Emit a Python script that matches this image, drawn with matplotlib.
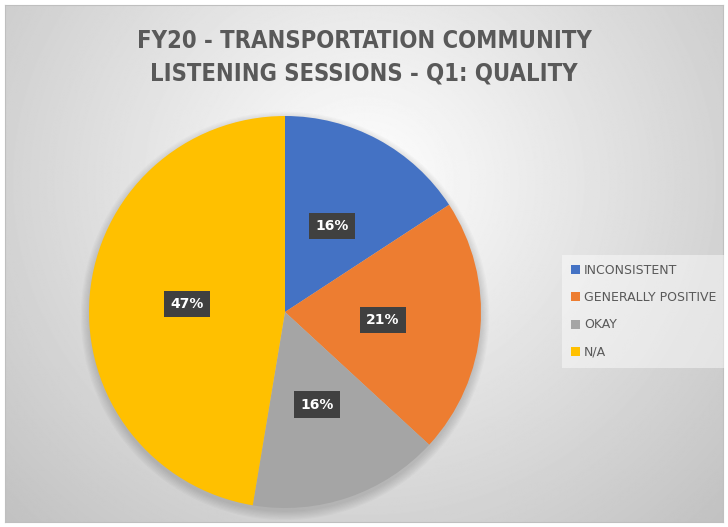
import numpy as np
import matplotlib.pyplot as plt
from matplotlib.patches import Patch, Circle

categories = ['INCONSISTENT', 'GENERALLY POSITIVE', 'OKAY', 'N/A']
responses = [3, 4, 3, 9]
colors = ['#4472C4', '#ED7D31', '#A5A5A5', '#FFC000']
title = 'FY20 - TRANSPORTATION COMMUNITY\nLISTENING SESSIONS - Q1: QUALITY'

W, H = 728, 527
fig = plt.figure(figsize=(W / 100, H / 100), dpi=100)
fig.patch.set_facecolor('white')

# radial gradient background (light near the title, grey towards edges)
bg = fig.add_axes([5 / W, 5 / H, 1 - 10 / W, 1 - 10 / H])
yy, xx = np.mgrid[0:H, 0:W]
dist = np.sqrt((xx - 364) ** 2 + ((yy - 180) * 1.05) ** 2)
shade = 1.0 - 0.17 * np.clip(dist / 360, 0, 1.5)
bg.imshow(shade, cmap='gray', vmin=0, vmax=1, aspect='auto', interpolation='bilinear')
bg.set_xticks([])
bg.set_yticks([])
for s in bg.spines.values():
    s.set_color('#bfbfbf')
    s.set_linewidth(0.8)

fig.text(0.5, 1 - 57 / H, title, ha='center', va='center', fontsize=17,
         fontweight='bold', fontstretch='condensed', color='#595959',
         linespacing=1.45)

# pie
cx, cy, r = 285, 312, 196
ax = fig.add_axes([(cx - r) / W, (H - cy - r) / H, 2 * r / W, 2 * r / H])
ax.axis('off')

# soft shadow under the pie
for k in range(8):
    ax.add_patch(Circle((0.0, -0.02), 1.0 + 0.006 * k, color='black',
                        alpha=0.02, lw=0, zorder=0, clip_on=False))

wedges, texts, autotexts = ax.pie(
    responses, colors=colors, startangle=90, counterclock=False,
    autopct='%1.0f%%', pctdistance=0.5, radius=1,
    wedgeprops=dict(linewidth=0, clip_on=False))
ax.set_xlim(-1, 1)
ax.set_ylim(-1, 1)
ax.set_aspect('equal')
for t in autotexts:
    t.set_color('white')
    t.set_fontweight('bold')
    t.set_fontsize(10)
    t.set_bbox(dict(boxstyle='square,pad=0.45', fc='#404040', ec='none'))

handles = [Patch(facecolor=c, edgecolor='none') for c in colors]
leg = fig.legend(handles, categories, loc='upper left',
                 bbox_to_anchor=(562 / W, 1 - 255 / H), frameon=True,
                 fontsize=9, labelspacing=1.15, handlelength=0.7,
                 handleheight=0.7, handletextpad=0.35, borderpad=0.7,
                 borderaxespad=0, fancybox=False)
leg.get_frame().set_facecolor('white')
leg.get_frame().set_alpha(0.45)
leg.get_frame().set_edgecolor('none')
for t in leg.get_texts():
    t.set_color('#595959')

fig.savefig('out.png', dpi=100)
